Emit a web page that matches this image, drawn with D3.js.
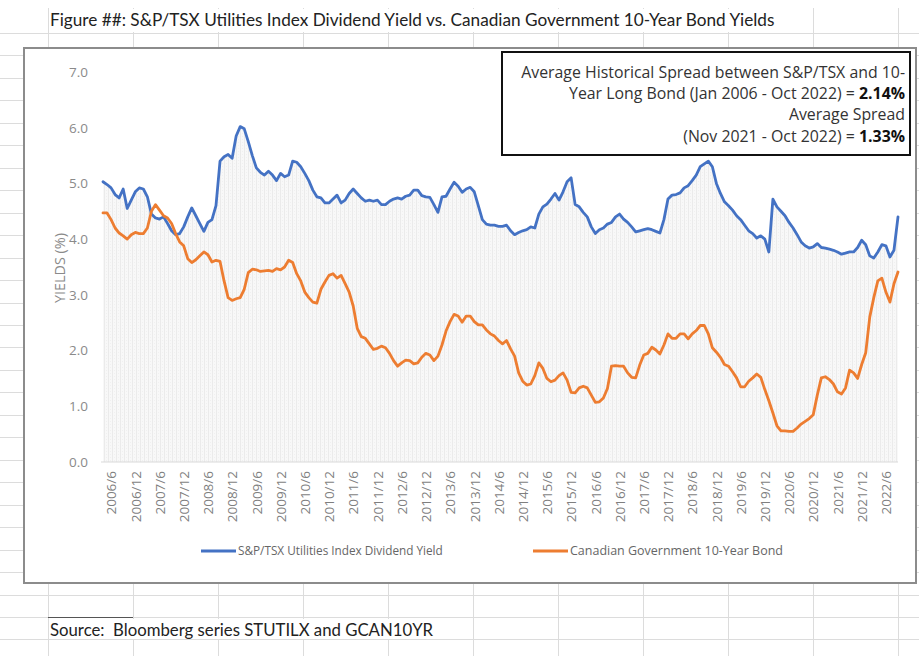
<!DOCTYPE html>
<html><head><meta charset="utf-8">
<script src="https://cdn.jsdelivr.net/npm/d3@7"></script>
<style>body{margin:0;background:#fff}svg{display:block}</style>
</head><body>
<svg id="c" width="919" height="656"></svg>
<script>
// ---- data ----
const startYear = 2006, startMonth = 4, nMonths = 198;
const categories = d3.range(nMonths).map(i => { const m = startMonth - 1 + i; return `${startYear + Math.floor(m / 12)}/${m % 12 + 1}`; });
const tickLabels = categories.filter(c => /\/(6|12)$/.test(c));
const yTicks = [0, 1, 2, 3, 4, 5, 6, 7];
const utilitiesYield = [
5.03,4.98,4.92,4.80,4.74,4.90,4.55,4.70,4.85,4.92,
4.90,4.76,4.45,4.38,4.36,4.40,4.28,4.15,4.08,4.10,
4.22,4.40,4.56,4.42,4.28,4.14,4.30,4.35,4.60,5.40,
5.48,5.52,5.45,5.85,6.02,5.98,5.75,5.50,5.28,5.20,
5.15,5.22,5.15,5.05,5.18,5.12,5.15,5.40,5.38,5.30,
5.18,5.05,4.88,4.76,4.74,4.65,4.65,4.72,4.79,4.65,
4.70,4.82,4.90,4.82,4.74,4.68,4.70,4.68,4.70,4.62,
4.62,4.68,4.72,4.74,4.72,4.77,4.79,4.88,4.88,4.78,
4.76,4.75,4.62,4.48,4.76,4.77,4.90,5.02,4.95,4.84,
4.90,4.93,4.85,4.60,4.35,4.27,4.25,4.25,4.23,4.23,
4.25,4.15,4.08,4.12,4.15,4.17,4.22,4.20,4.45,4.58,
4.63,4.72,4.82,4.70,4.85,5.03,5.10,4.62,4.58,4.48,
4.40,4.22,4.10,4.17,4.20,4.27,4.30,4.40,4.45,4.36,
4.30,4.22,4.13,4.15,4.17,4.19,4.17,4.14,4.11,4.35,
4.72,4.79,4.80,4.83,4.92,4.96,5.05,5.15,5.30,5.35,
5.40,5.30,5.00,4.82,4.67,4.60,4.52,4.42,4.35,4.25,
4.15,4.10,4.02,4.06,4.00,3.77,4.72,4.58,4.50,4.42,
4.30,4.20,4.08,3.95,3.88,3.84,3.86,3.92,3.85,3.84,
3.82,3.80,3.77,3.73,3.75,3.77,3.77,3.85,3.98,3.90,
3.70,3.66,3.77,3.90,3.88,3.68,3.80,4.40];
const bondYield = [
4.47,4.47,4.35,4.20,4.11,4.06,4.00,4.08,4.12,4.10,
4.10,4.20,4.50,4.62,4.52,4.42,4.38,4.28,4.10,3.95,
3.88,3.65,3.58,3.63,3.70,3.77,3.72,3.59,3.62,3.60,
3.25,2.95,2.90,2.93,2.95,3.10,3.40,3.46,3.45,3.42,
3.43,3.44,3.42,3.47,3.45,3.50,3.62,3.58,3.38,3.25,
3.05,2.95,2.87,2.85,3.10,3.23,3.35,3.38,3.30,3.35,
3.20,3.05,2.80,2.40,2.25,2.22,2.12,2.02,2.04,2.08,
2.05,1.95,1.82,1.72,1.78,1.83,1.82,1.76,1.78,1.88,
1.95,1.92,1.82,1.90,2.10,2.35,2.52,2.65,2.62,2.51,
2.62,2.62,2.52,2.46,2.46,2.37,2.30,2.26,2.18,2.12,
2.18,2.03,1.90,1.60,1.45,1.38,1.40,1.55,1.78,1.68,
1.50,1.44,1.47,1.55,1.60,1.47,1.25,1.24,1.33,1.36,
1.33,1.20,1.07,1.08,1.15,1.32,1.72,1.73,1.72,1.72,
1.60,1.52,1.51,1.74,1.92,1.95,2.06,2.01,1.94,2.10,
2.30,2.22,2.22,2.30,2.30,2.21,2.30,2.36,2.45,2.45,
2.30,2.05,1.97,1.88,1.75,1.72,1.62,1.51,1.35,1.35,
1.45,1.51,1.58,1.52,1.30,1.10,0.88,0.65,0.56,0.56,
0.55,0.55,0.61,0.68,0.73,0.78,0.85,1.20,1.51,1.53,
1.48,1.40,1.26,1.22,1.33,1.65,1.60,1.50,1.75,1.96,
2.60,2.95,3.25,3.30,3.05,2.87,3.20,3.41];
const seriesNames = ["S&P/TSX Utilities Index Dividend Yield", "Canadian Government 10-Year Bond"];
const seriesColors = ["#4472C4", "#ED7D31"];
const titleText = "Figure ##: S&P/TSX Utilities Index Dividend Yield vs. Canadian Government 10-Year Bond Yields";
const sourceText = "Source:  Bloomberg series STUTILX and GCAN10YR";

// ---- drawing ----
const svg = d3.select("#c");
const W = 919, H = 656;
const uiFont = "'Open Sans', 'DejaVu Sans', sans-serif";
const titleFont = "Lato, 'Open Sans', sans-serif";

function fit(sel, width) {
  const fs = parseFloat(sel.attr("font-size"));
  const w = sel.node().getComputedTextLength();
  const nf = fs * width / w;
  sel.attr("font-size", nf.toFixed(2));
  return nf;
}

// spreadsheet grid
const grid = svg.append("g").attr("stroke", "#dcdcdc").attr("stroke-width", 1);
for (let k = 0; k <= 27; k++) { const yy = Math.round(33 + 22.46 * k) + 0.5; grid.append("line").attr("x1", 0).attr("x2", W).attr("y1", yy).attr("y2", yy); }
for (let k = 0; k <= 10; k++) { const xx = 48 + 85 * k + 0.5; grid.append("line").attr("x1", xx).attr("x2", xx).attr("y1", 8).attr("y2", H); }
svg.append("line").attr("x1", 48).attr("x2", 133).attr("y1", 617.5).attr("y2", 617.5).attr("stroke", "#555").attr("stroke-width", 1.2);

// title & source
svg.append("rect").attr("x", 49).attr("y", 9).attr("width", 740).attr("height", 23).attr("fill", "#fff");
const t = svg.append("text").attr("x", 50).attr("y", 26).attr("font-family", titleFont).attr("font-size", 16).attr("fill", "#222").text(titleText);
fit(t, 725);
svg.append("rect").attr("x", 49).attr("y", 619).attr("width", 400).attr("height", 20).attr("fill", "#fff");
const s = svg.append("text").attr("x", 50).attr("y", 636).attr("font-family", titleFont).attr("font-size", 16)
  .attr("fill", "#222").style("white-space", "pre").text(sourceText);
fit(s, 383);

// chart frame
svg.append("rect").attr("x", 24).attr("y", 48).attr("width", 892).attr("height", 535)
  .attr("fill", "#fff").attr("stroke", "#8c8c8c").attr("stroke-width", 2);

// pattern
const defs = svg.append("defs");
const pat = defs.append("pattern").attr("id", "dots").attr("patternUnits", "userSpaceOnUse").attr("width", 4).attr("height", 3);
pat.append("rect").attr("width", 4).attr("height", 3).attr("fill", "#f8f8f8");
pat.append("rect").attr("x", 0).attr("width", 1).attr("height", 3).attr("fill", "#ebebeb");
pat.append("rect").attr("x", 2).attr("y", 1).attr("width", 1).attr("height", 1).attr("fill", "#f0f0f0");

const x = d3.scalePoint().domain(categories).range([103, 898]);
const y = d3.scaleLinear().domain([0, 7]).range([462, 72]);

// area under blue
svg.append("path").datum(utilitiesYield)
  .attr("fill", "url(#dots)")
  .attr("d", d3.area().x((d, i) => x(categories[i])).y0(y(0)).y1(d => y(d)));

// baseline
svg.append("line").attr("x1", 101).attr("x2", 898).attr("y1", y(0)).attr("y2", y(0)).attr("stroke", "#d9d9d9").attr("stroke-width", 1);

// y axis
const ya = svg.append("g").attr("transform", "translate(101,0)")
  .call(d3.axisLeft(y).tickValues(yTicks).tickFormat(d3.format(".1f")).tickSize(0).tickPadding(13));
ya.select(".domain").remove();
ya.selectAll("text").attr("font-family", uiFont).attr("font-size", 13.5).attr("fill", "#8a8a8a");

const yl = svg.append("text").attr("transform", "translate(65,268) rotate(-90)").attr("text-anchor", "middle")
  .attr("font-family", uiFont).attr("font-size", 13).attr("fill", "#8a8a8a").text("YIELDS (%)");
fit(yl, 70);

// x axis
const xa = svg.append("g").attr("transform", `translate(0,${y(0)})`)
  .call(d3.axisBottom(x).tickValues(tickLabels).tickSize(0));
xa.select(".domain").remove();
xa.selectAll("text").attr("font-family", uiFont).attr("font-size", 13.5).attr("fill", "#7f7f7f")
  .attr("transform", "rotate(-90)").attr("text-anchor", "end").attr("x", -9).attr("y", 0).attr("dy", "0.35em");

// lines
const line = d3.line().x((d, i) => x(categories[i])).y(d => y(d));
[utilitiesYield, bondYield].forEach((data, k) => {
  svg.append("path").datum(data).attr("fill", "none").attr("stroke", seriesColors[k])
    .attr("stroke-width", 2.8).attr("stroke-linejoin", "round").attr("stroke-linecap", "round").attr("d", line);
});

// legend
const legX = [201, 533], legTextW = [205, 213];
seriesNames.forEach((n, k) => {
  svg.append("line").attr("x1", legX[k]).attr("x2", legX[k] + 35).attr("y1", 551).attr("y2", 551)
    .attr("stroke", seriesColors[k]).attr("stroke-width", 2.8);
  const lt = svg.append("text").attr("x", legX[k] + 37).attr("y", 555).attr("font-family", uiFont)
    .attr("font-size", 11).attr("fill", "#666").text(n);
  fit(lt, legTextW[k]);
});

// annotation box
svg.append("rect").attr("x", 502).attr("y", 52).attr("width", 408).attr("height", 103)
  .attr("fill", "#fff").attr("stroke", "#111").attr("stroke-width", 2);
const boxLines = [
  [["Average Historical Spread between S&P/TSX and 10-", false]],
  [["Year Long Bond (Jan 2006 - Oct 2022) = ", false], ["2.14%", true]],
  [["Average Spread", false]],
  [["(Nov 2021 - Oct 2022) = ", false], ["1.33%", true]]
];
const boxY = [78, 99, 120, 142];
let boxFs = 14;
boxLines.forEach((parts, k) => {
  const tt = svg.append("text").attr("x", 905).attr("y", boxY[k]).attr("text-anchor", "end")
    .attr("font-family", uiFont).attr("font-size", boxFs).attr("fill", "#333");
  parts.forEach(([str, b]) => tt.append("tspan").attr("font-weight", b ? "bold" : "normal").attr("fill", b ? "#111" : "#333").text(str));
  if (k === 0) boxFs = fit(tt, 384);
});
</script>
</body></html>
